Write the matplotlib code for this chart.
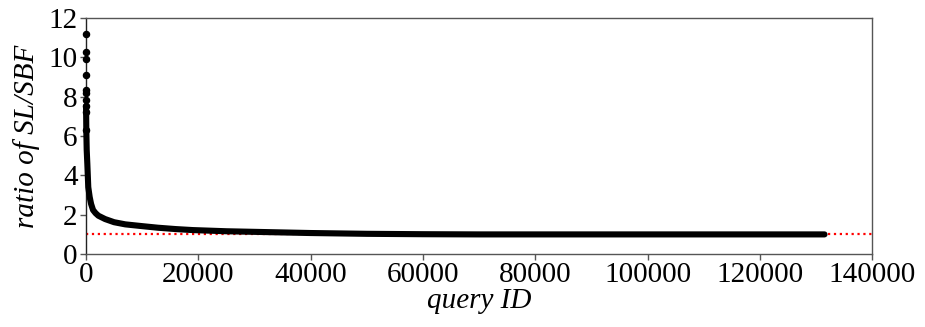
import matplotlib
matplotlib.use("Agg")
import matplotlib.pyplot as plt

# Sorted per-query ratio of SL cost to SBF cost (largest first)
outlier_ids = [0, 1, 2, 3, 4, 5, 6]
outlier_ratios = [11.18, 10.29, 9.93, 9.08, 8.34, 8.17, 7.83]

curve_ids = [7, 20, 50, 120, 230, 400, 650, 900, 1250, 1700, 2200, 3400,
             5000, 7000, 10000, 12800, 16000, 19000, 25000, 30000, 35000,
             40000, 50000, 60000, 70000, 80000, 100000, 120000, 131500]
curve_ratios = [7.52, 7.2, 6.3, 5.3, 4.6, 3.4, 2.9, 2.55, 2.24, 2.08, 1.95, 1.78,
                1.62, 1.51, 1.42, 1.34, 1.27, 1.22, 1.16, 1.13, 1.10,
                1.07, 1.03, 1.01, 1.0, 1.0, 1.0, 1.0, 1.0]

baseline = 1.0
x_ticks = [0, 20000, 40000, 60000, 80000, 100000, 120000, 140000]
y_ticks = [0, 2, 4, 6, 8, 10, 12]

plt.rcParams['font.family'] = ['Liberation Serif', 'DejaVu Serif']
plt.rcParams['font.size'] = 21

fig = plt.figure(figsize=(9.25, 3.27), dpi=100)
ax = fig.add_axes([0.093, 0.223, 0.850, 0.722])

ax.axhline(baseline, color='red', linestyle=':', linewidth=1.6, zorder=1)

ax.plot(curve_ids, curve_ratios, '-', color='black', linewidth=4.4,
        solid_capstyle='round', solid_joinstyle='round', clip_on=False, zorder=3)
ax.plot(outlier_ids + curve_ids[:3], outlier_ratios + curve_ratios[:3], 'o',
        color='black', markersize=4.4, clip_on=False, zorder=3)

ax.set_xlim(0, 140000)
ax.set_ylim(0, 12)
ax.set_xticks(x_ticks)
ax.set_yticks(y_ticks)
ax.set_xticklabels([str(v) for v in x_ticks])
ax.set_yticklabels([str(v) for v in y_ticks])

for name, s in ax.spines.items():
    s.set_color('#222222' if name == 'left' else '#555555')
    s.set_linewidth(1.0)
ax.tick_params(direction='out', length=4, width=1.0, color='#555555', pad=2)

ax.set_xlabel('query ID', style='italic', labelpad=0)
ax.set_ylabel('ratio of SL/SBF', style='italic', labelpad=6)

fig.savefig('out.png', dpi=100)
